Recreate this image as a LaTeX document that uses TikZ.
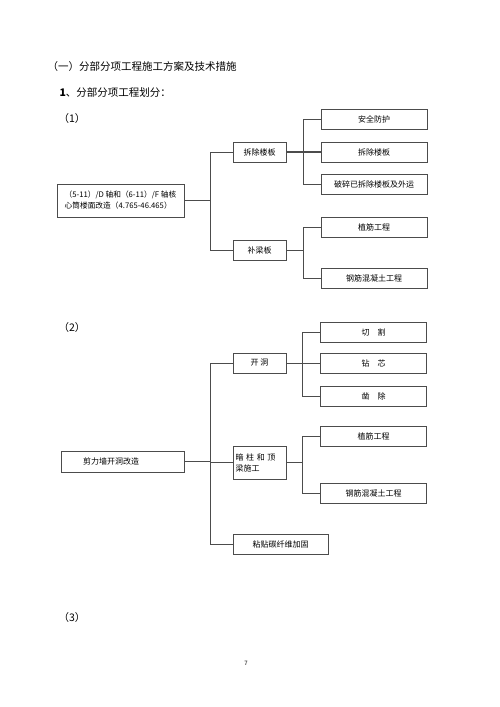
\documentclass[tikz,border=0pt]{standalone}
\usepackage{fontspec}
\setmainfont{Noto Sans CJK SC}
\usepackage{tikz}
\usetikzlibrary{positioning}

\begin{document}
\begin{tikzpicture}[
    x=1pt, y=-1pt,
    font=\fontsize{8}{11}\selectfont,
    box/.style={
      draw=black!70,
      line width=0.8pt,
      align=center,
      inner sep=2pt,
      minimum height=20pt
    },
    midbox/.style={
      box,
      minimum width=53pt
    },
    leafbox/.style={
      box,
      minimum width=106pt
    },
    link/.style={draw=black!70, line width=0.7pt},
    heading/.style={anchor=west, font=\fontsize{10.5}{12}\selectfont}
]
\useasboundingbox[fill=white] (0,0) rectangle (500,707);

% headings
\node[heading] (title) at (44,67) {（一）分部分项工程施工方案及技术措施};
\node[heading] (sub) at (56,93) {\textbf{1}、分部分项工程划分：};
\node[heading] (p1) at (55,119) {（1）};
\node[heading] (p2) at (55,328) {（2）};
\node[heading] (p3) at (55,618) {（3）};
\node[font=\fontsize{6}{7}\selectfont] (page) at (246,663) {7};

% tree (1)
\node[box, minimum width=127pt, minimum height=33pt, font=\fontsize{7.7}{11}\selectfont,
      align=left, inner xsep=1pt] (floor) at (120.5,200.5)
  {（5-11）/D 轴和（6-11）/F 轴核\\心筒楼面改造（4.765-46.465）};
\node[midbox] (demo) at (259.5,152) {拆除楼板};
\node[midbox] (patch) at (259.5,250.5) {补梁板};
\node[leafbox] (safety) at (374,119) {安全防护};
\node[leafbox] (remove) at (374,152) {拆除楼板};
\node[leafbox] (haul) at (374,184) {破碎已拆除楼板及外运};
\node[leafbox] (rebarA) at (374,227) {植筋工程};
\node[leafbox] (concA) at (374,278) {钢筋混凝土工程};

\draw[link] (floor.east) -- ++(26,0) |- (demo.west);
\draw[link] (floor.east) -- ++(26,0) |- (patch.west);
\draw[link] (demo.east) -- ++(17,0) |- (safety.west);
\draw[link, line width=1.2pt] (demo.east) -- (remove.west);
\draw[link] (demo.east) -- ++(17,0) |- (haul.west);
\draw[link] (patch.east) -- ++(17,0) |- (rebarA.west);
\draw[link] (patch.east) -- ++(17,0) |- (concA.west);

% tree (2)
\node[box, minimum width=123pt, minimum height=21pt, text width=79pt, inner xsep=22pt,
      align=left] (wall) at (122.5,461.5) {剪力墙开洞改造};
\node[midbox] (open) at (259.5,363) {开\ 洞};
\node[midbox, minimum height=33pt, text width=48pt, align=left] (column) at (259.5,462.5)
  {暗\ 柱\ 和\ 顶\\梁施工};
\node[box, minimum width=95pt] (carbon) at (280.5,544) {粘贴碳纤维加固};
\node[leafbox] (cut) at (373.5,332) {切\quad 割};
\node[leafbox] (core) at (373.5,363) {钻\quad 芯};
\node[leafbox] (chisel) at (373.5,396) {凿\quad 除};
\node[leafbox] (rebarB) at (373.5,436) {植筋工程};
\node[leafbox] (concB) at (373.5,493) {钢筋混凝土工程};

\draw[link] (wall.east) -- ++(26,0) |- (open.west);
\draw[link] (wall.east) -- ++(26,0) |- (column.west);
\draw[link] (wall.east) -- ++(26,0) |- (carbon.west);
\draw[link] (open.east) -- ++(16,0) |- (cut.west);
\draw[link] (open.east) -- (core.west);
\draw[link] (open.east) -- ++(16,0) |- (chisel.west);
\draw[link] (column.east) -- ++(16,0) |- (rebarB.west);
\draw[link] (column.east) -- ++(16,0) |- (concB.west);
\end{tikzpicture}
\end{document}
